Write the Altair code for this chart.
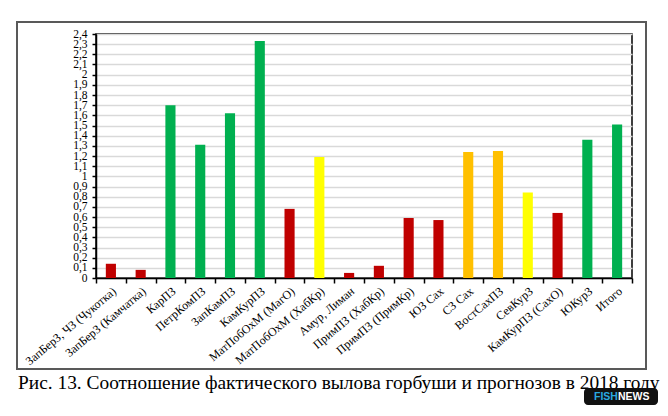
import altair as alt
import pandas as pd

categories = ["ЗапБерЗ, ЧЗ (Чукотка)", "ЗапБерЗ (Камчатка)", "КарПЗ", "ПетрКомПЗ",
              "ЗапКамПЗ", "КамКурПЗ", "МатПобОхМ (МагО)", "МатПобОхМ (ХабКр)",
              "Амур, Лиман", "ПримПЗ (ХабКр)", "ПримПЗ (ПримКр)", "ЮЗ Сах", "СЗ Сах",
              "ВостСахПЗ", "СевКурЗ", "КамКурПЗ (СахО)", "ЮКурЗ", "Итого"]
values = [0.14, 0.08, 1.70, 1.31, 1.62, 2.33, 0.68, 1.19, 0.05, 0.12, 0.59, 0.57,
          1.24, 1.25, 0.84, 0.64, 1.36, 1.51]
status = ["red", "red", "green", "green", "green", "green", "red", "yellow", "red",
          "red", "red", "red", "orange", "orange", "yellow", "red", "green", "green"]
status_domain = ["red", "green", "yellow", "orange"]
status_colors = ["#C00000", "#00B050", "#FFFF00", "#FFC000"]
y_ticks = [round(i * 0.1, 1) for i in range(25)]
caption = "Рис. 13. Соотношение фактического вылова горбуши и прогнозов в 2018 году"

df = pd.DataFrame({"cat": categories, "val": values, "status": status})
one = pd.DataFrame({"t": [caption]})

serif = "Liberation Serif"

bars = alt.Chart(df).mark_bar(width=alt.RelativeBandSize(0.34)).encode(
    x=alt.X("cat:N", sort=categories, title=None,
            scale=alt.Scale(paddingInner=0, paddingOuter=0),
            axis=alt.Axis(labelAngle=-40, labelAlign="right", labelBaseline="middle",
                          labelFont=serif, labelFontSize=12, labelColor="#000",
                          labelPadding=6, labelOffset=3, tickBand="extent",
                          tickSize=5, tickColor="#000", tickWidth=1.5,
                          domainColor="#000", domainWidth=1.5, grid=False,
                          labelOverlap=False)),
    y=alt.Y("val:Q", title=None,
            scale=alt.Scale(domain=[0, 2.4], nice=False),
            axis=alt.Axis(values=y_ticks,
                          labelExpr="replace(format(datum.value, '.1~f'), '.', ',')",
                          labelFont=serif, labelFontSize=11.5, labelColor="#000",
                          labelPadding=5, tickSize=4, tickColor="#000", tickWidth=1.5,
                          domainColor="#000", domainWidth=1.5,
                          grid=True, gridColor="#D9D9D9", gridWidth=1.5,
                          labelOverlap=False)),
    color=alt.Color("status:N", scale=alt.Scale(domain=status_domain, range=status_colors),
                    legend=None),
)

frame = alt.Chart(one).mark_rect(fill=None, stroke="#595959", strokeWidth=2).encode(
    x=alt.value(-79), x2=alt.value(550), y=alt.value(-12), y2=alt.value(335))

cap = alt.Chart(one).mark_text(align="left", baseline="alphabetic", font=serif,
                               fontSize=19.4, color="#000").encode(
    text="t:N", x=alt.value(-78), y=alt.value(355))

logo_bg = alt.Chart(one).mark_rect(fill="#111111", cornerRadius=4).encode(
    x=alt.value(488), x2=alt.value(562), y=alt.value(354), y2=alt.value(371))
logo_fish = alt.Chart(pd.DataFrame({"t": ["FISH"]})).mark_text(
    align="left", baseline="alphabetic", font="Liberation Sans", fontWeight="bold",
    fontSize=10.5, color="#2AA8E0").encode(text="t:N", x=alt.value(498), y=alt.value(366))
logo_news = alt.Chart(pd.DataFrame({"t": ["NEWS"]})).mark_text(
    align="left", baseline="alphabetic", font="Liberation Sans", fontWeight="bold",
    fontSize=10.5, color="#FFFFFF").encode(text="t:N", x=alt.value(522), y=alt.value(366))

chart = alt.layer(bars, frame, cap, logo_bg, logo_fish, logo_news).properties(
    width=536, height=244,
    autosize=alt.AutoSizeParams(type="none"),
    padding={"left": 88, "top": 26, "right": 28, "bottom": 130},
    background="#FFFFFF",
).configure_view(stroke="#000", strokeWidth=1.5)

chart.save("out.html", embed_options={"renderer": "svg", "actions": False})
